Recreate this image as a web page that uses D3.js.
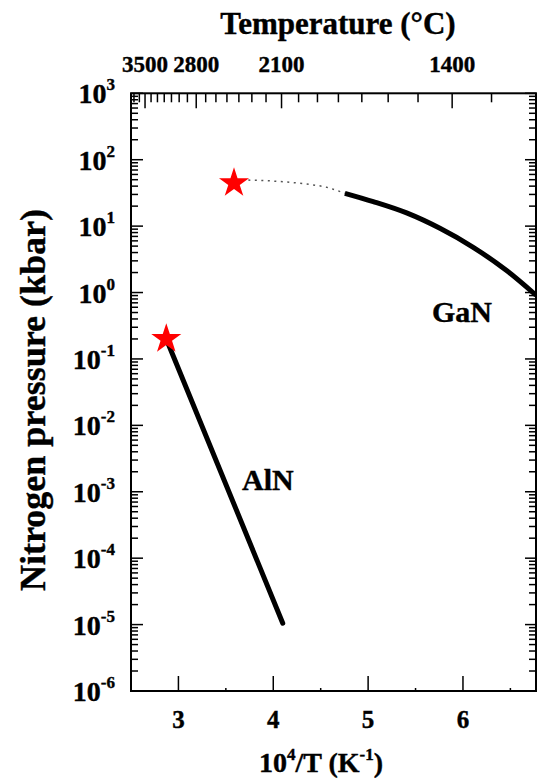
<!DOCTYPE html>
<html>
<head>
<meta charset="utf-8">
<script src="https://cdn.jsdelivr.net/npm/d3@7"></script>
<style>
html,body{margin:0;padding:0;background:#fff;}
svg{display:block;}
text{font-family:"Liberation Serif","Times New Roman",serif;font-weight:bold;fill:#000;stroke:#000;stroke-width:0.4px;}
</style>
</head>
<body>
<svg id="chart" width="537" height="782"></svg>
<script>
// ---------- data ----------
const xMajorTicks = [3, 4, 5, 6];
const xMinorTicks = [3.5, 4.5, 5.5, 6.5];
const yExponents = [3, 2, 1, 0, -1, -2, -3, -4, -5, -6];
const topMajorTemps = [3500, 2800, 2100, 1400];
const topMinorTemps = [3700, 3600, 3400, 3300, 3200, 3100, 3000, 2900, 2700, 2600, 2500, 2400, 2300, 2200, 2000, 1900, 1800, 1700, 1600, 1500, 1300, 1200];
// calibration of the top (temperature) axis against the bottom axis:
// 10^4/T for 3500 °C and 1400 °C sit at these bottom-axis values
const topAnchorTemps = [3500, 1400];
const topAnchorX = [2.648, 5.886];

const alnX = [2.872, 4.10];
const alnP = [0.20, 1.05e-5];

const ganDotX = [3.60, 3.93, 4.141, 4.352, 4.563, 4.755];
const ganDotP = [49.6, 48.3, 46.1, 43.0, 38.4, 31.2];

const ganSolidX = [4.755, 5.054, 5.406, 5.757, 6.108, 6.460, 6.77];
const ganSolidP = [31.2, 23.4, 15.8, 9.27, 4.8, 2.14, 0.91];

const starX = [3.586, 2.872];
const starP = [44.5, 0.20];

const labels = [{text: "GaN", x: 5.99, p: 0.36}, {text: "AlN", x: 3.944, p: 0.00107}];

// ---------- layout ----------
const svg = d3.select("#chart");
const L = 131, R = 536, T = 93.3, B = 691;
const x = d3.scaleLinear().domain([2.5, 6.77]).range([L, R]);
const y = d3.scaleLog().domain([1e-6, 1e3]).range([B, T]);
const xTop = d3.scaleLinear()
  .domain(topAnchorTemps.map(t => 1e4 / t))
  .range(topAnchorX.map(v => x(v)));

svg.append("rect").attr("width", 537).attr("height", 782).attr("fill", "#fff");

svg.append("clipPath").attr("id", "clip")
  .append("rect").attr("x", L).attr("y", T).attr("width", R - L).attr("height", B - T);

const tickG = svg.append("g").attr("stroke", "#000").attr("stroke-width", 1.5).attr("fill", "none");

// left & right axes ticks
yExponents.forEach(e => {
  const yy = y(Math.pow(10, e));
  tickG.append("line").attr("x1", L).attr("x2", L + 12).attr("y1", yy).attr("y2", yy);
  tickG.append("line").attr("x1", R).attr("x2", R - 11).attr("y1", yy).attr("y2", yy);
  if (e > -6) {
    for (let m = 2; m <= 9; m++) {
      const ym = y(m * Math.pow(10, e - 1));
      tickG.append("line").attr("x1", L).attr("x2", L + 7).attr("y1", ym).attr("y2", ym);
      tickG.append("line").attr("x1", R).attr("x2", R - 7).attr("y1", ym).attr("y2", ym);
    }
  }
});

// bottom ticks
xMajorTicks.forEach(v => {
  tickG.append("line").attr("x1", x(v)).attr("x2", x(v)).attr("y1", B).attr("y2", B - 15);
});
xMinorTicks.forEach(v => {
  tickG.append("line").attr("x1", x(v)).attr("x2", x(v)).attr("y1", B).attr("y2", B - 3);
});

// top ticks
topMajorTemps.forEach(t => {
  const xx = xTop(1e4 / t);
  tickG.append("line").attr("x1", xx).attr("x2", xx).attr("y1", T).attr("y2", T + 15);
});
topMinorTemps.forEach(t => {
  const xx = xTop(1e4 / t);
  if (xx > L + 1 && xx < R - 1)
    tickG.append("line").attr("x1", xx).attr("x2", xx).attr("y1", T).attr("y2", T + 9);
});

// frame
svg.append("rect").attr("x", L).attr("y", T).attr("width", R - L).attr("height", B - T)
  .attr("fill", "none").attr("stroke", "#000").attr("stroke-width", 2);

// ---------- tick labels ----------
yExponents.forEach(e => {
  const t = svg.append("text").attr("x", 115).attr("y", y(Math.pow(10, e)) + 10)
    .attr("text-anchor", "end").attr("font-size", 28);
  t.append("tspan").text("10");
  t.append("tspan").attr("font-size", 17).attr("dy", -13).text(e);
});

xMajorTicks.forEach(v => {
  svg.append("text").attr("x", x(v)).attr("y", 728).attr("text-anchor", "middle")
    .attr("font-size", 25).text(v);
});

topMajorTemps.forEach(t => {
  svg.append("text").attr("x", xTop(1e4 / t)).attr("y", 72).attr("text-anchor", "middle")
    .attr("font-size", 23).text(t);
});

// ---------- titles ----------
svg.append("text").attr("x", 338).attr("y", 34).attr("text-anchor", "middle")
  .attr("font-size", 31).text("Temperature (°C)");

const xt = svg.append("text").attr("x", 321).attr("y", 772).attr("text-anchor", "middle").attr("font-size", 28);
xt.append("tspan").text("10");
xt.append("tspan").attr("font-size", 17).attr("dy", -12).text("4");
xt.append("tspan").attr("dy", 12).text("/T (K");
xt.append("tspan").attr("font-size", 17).attr("dy", -12).text("-1");
xt.append("tspan").attr("dy", 12).text(")");

svg.append("text").attr("transform", "translate(45,400) rotate(-90)")
  .attr("text-anchor", "middle").attr("font-size", 36).text("Nitrogen pressure (kbar)");

// ---------- data marks ----------
const plot = svg.append("g").attr("clip-path", "url(#clip)");
const line = d3.line().x(d => x(d[0])).y(d => y(d[1]));
const curve = d3.line().x(d => x(d[0])).y(d => y(d[1])).curve(d3.curveMonotoneX);

plot.append("path").datum(alnX.map((v, i) => [v, alnP[i]]))
  .attr("d", line).attr("fill", "none").attr("stroke", "#000")
  .attr("stroke-width", 5).attr("stroke-linecap", "round");

plot.append("path").datum(ganSolidX.map((v, i) => [v, ganSolidP[i]]))
  .attr("d", curve).attr("fill", "none").attr("stroke", "#000")
  .attr("stroke-width", 5);

svg.selectAll(".star").data(starX.map((v, i) => [v, starP[i]])).enter()
  .append("path").attr("class", "star")
  .attr("transform", d => `translate(${x(d[0])},${y(d[1])})`)
  .attr("d", d3.symbol(d3.symbolStar, 280)).attr("fill", "#ff0000");

plot.append("path").datum(ganDotX.map((v, i) => [v, ganDotP[i]]))
  .attr("d", curve).attr("fill", "none").attr("stroke", "#555")
  .attr("stroke-width", 1.5).attr("stroke-dasharray", "2,4.5");

labels.forEach(l => {
  svg.append("text").attr("x", x(l.x)).attr("y", y(l.p)).attr("text-anchor", "middle")
    .attr("font-size", 30).text(l.text);
});
</script>
</body>
</html>
